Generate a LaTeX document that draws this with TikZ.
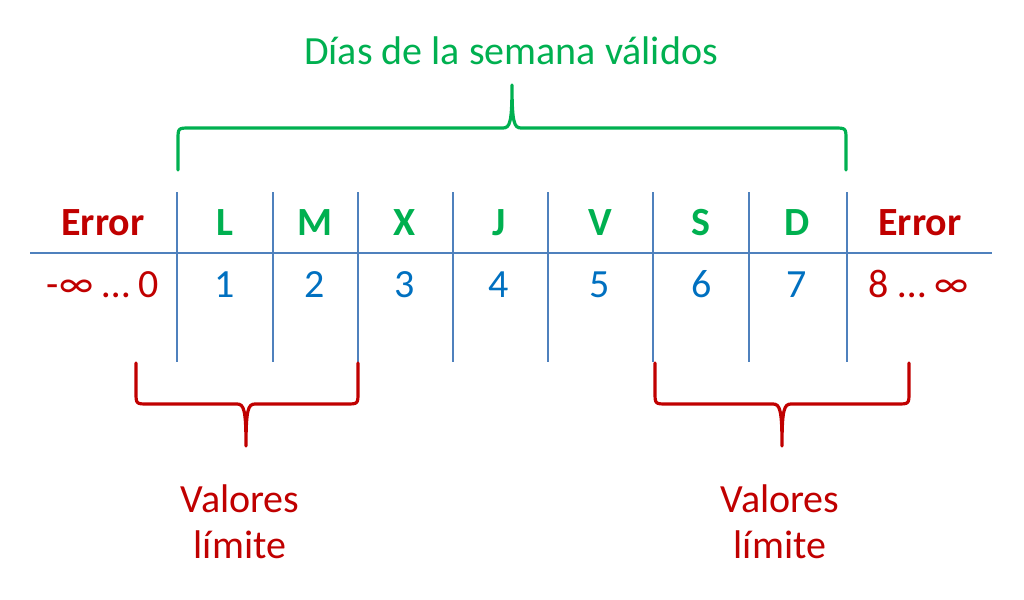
\documentclass[tikz,border=0pt]{standalone}
\usepackage{fontspec}
\setmainfont{Carlito}
\definecolor{cred}{RGB}{192,0,0}
\definecolor{cgreen}{RGB}{0,176,80}
\definecolor{cblue}{RGB}{0,112,192}
\definecolor{cline}{RGB}{79,129,189}
\begin{document}
\begin{tikzpicture}[x=1pt,y=-1pt,
  hdr/.style={font=\fontsize{40}{44}\selectfont\bfseries, anchor=base, inner sep=0pt},
  num/.style={font=\fontsize{40}{44}\selectfont, anchor=base, inner sep=0pt, text=cblue},
  lbl/.style={font=\fontsize{40}{46}\selectfont, align=center, inner sep=0pt},
  grid/.style={draw=cline, line width=1.6pt},
  brace/.style={line width=3.2pt, line cap=round, line join=round}]
\useasboundingbox (0,0) rectangle (1024,599);
% grid
\coordinate (hl) at (30,253);
\coordinate (hr) at (992,253);
\draw[grid] (hl) -- (hr);
\foreach \x/\n in {177/a,273/b,358/c,453/d,548/e,653/f,749/g,847/h}{
  \coordinate (t\n) at (\x,192);
  \coordinate (b\n) at (\x,362);
  \draw[grid] (t\n) -- (b\n);
}
% headers
\node[hdr,text=cred] (e1) at (103,235) {Error};
\node[hdr,text=cgreen] (hL) at (225,235) {L};
\node[hdr,text=cgreen] (hM) at (315,235) {M};
\node[hdr,text=cgreen] (hX) at (405,235) {X};
\node[hdr,text=cgreen] (hJ) at (499,235) {J};
\node[hdr,text=cgreen] (hV) at (600,235) {V};
\node[hdr,text=cgreen] (hS) at (701,235) {S};
\node[hdr,text=cgreen] (hD) at (797,235) {D};
\node[hdr,text=cred] (e2) at (920,235) {Error};
% numbers
\node[num,text=cred] (n0) at (103,297) {-∞ … 0};
\node[num] (n1) at (225,297) {1};
\node[num] (n2) at (315,297) {2};
\node[num] (n3) at (405,297) {3};
\node[num] (n4) at (499,297) {4};
\node[num] (n5) at (600,297) {5};
\node[num] (n6) at (702,297) {6};
\node[num] (n7) at (797,297) {7};
\node[num,text=cred] (n8) at (919,297) {8 … ∞};
% title and green brace
\node[lbl,text=cgreen,anchor=base] (title) at (511,65) {Días de la semana válidos};
\draw[brace,draw=cgreen] (178,170) -- (178,140) .. controls (178,128) .. (190,128)
  -- (503,128) .. controls (510,128) and (512,122) .. (512,85)
  .. controls (512,122) and (514,128) .. (521,128)
  -- (834,128) .. controls (846,128) .. (846,140) -- (846,170);
% red braces
\draw[brace,draw=cred] (136,363) -- (136,392) .. controls (136,404) .. (148,404)
  -- (237,404) .. controls (244,404) and (246,410) .. (246,446)
  .. controls (246,410) and (248,404) .. (255,404)
  -- (346,404) .. controls (358,404) .. (358,392) -- (358,363);
\draw[brace,draw=cred] (655,363) -- (655,392) .. controls (655,404) .. (667,404)
  -- (773,404) .. controls (780,404) and (782,410) .. (782,446)
  .. controls (782,410) and (784,404) .. (791,404)
  -- (897,404) .. controls (909,404) .. (909,392) -- (909,363);
\node[lbl,text=cred] (v1) at (240,522) {Valores\\límite};
\node[lbl,text=cred] (v2) at (780,522) {Valores\\límite};
\end{tikzpicture}
\end{document}
